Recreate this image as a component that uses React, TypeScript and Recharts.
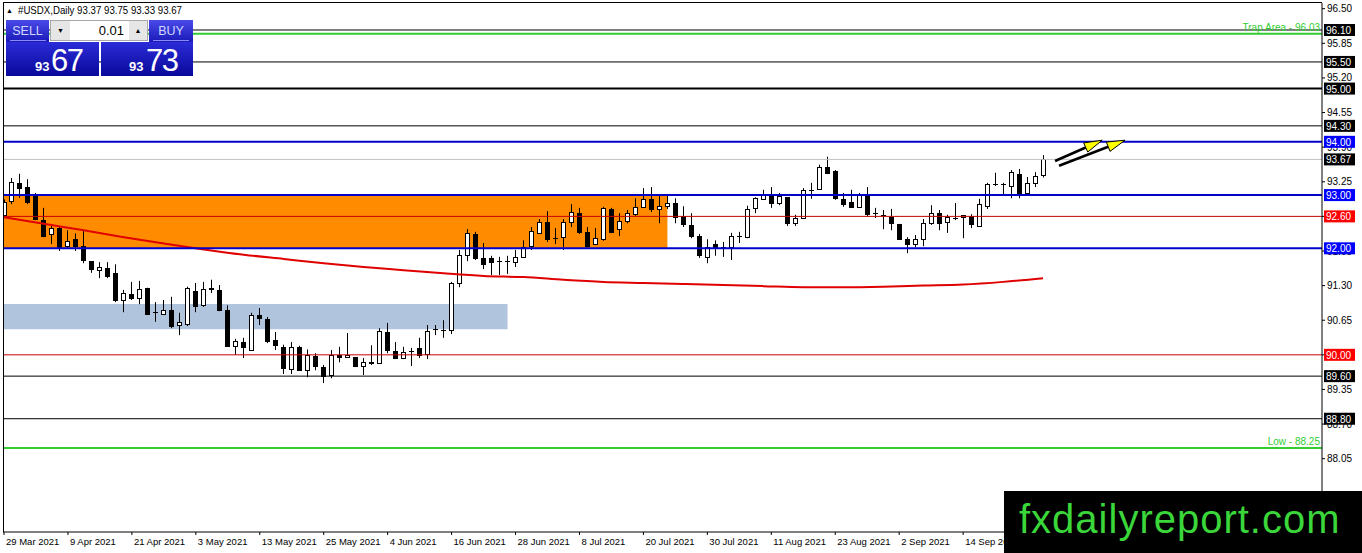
import React, { useState } from "react";
import { createPortal } from "react-dom";
import {
  ComposedChart,
  Bar,
  Line,
  XAxis,
  YAxis,
  ReferenceLine,
  ReferenceArea,
} from "recharts";

// daily OHLC of #USDX (bar 0 = 29 Mar 2021)
const opens = [
  92.63, 92.89, 93.23, 93.15, 92.98, 92.53, 92.27, 92.38, 92.05, 92.17,
  92.04, 91.76, 91.59, 91.63, 91.54, 91.03, 91.14, 91.07, 91.26, 90.8,
  90.77, 90.84, 90.56, 90.58, 91.2, 90.93, 91.26, 91.22, 90.84, 90.17,
  90.24, 90.1, 90.75, 90.67, 90.28, 90.15, 89.73, 90.15, 89.71, 89.97,
  89.78, 89.62, 89.99, 89.96, 89.95, 89.79, 89.84, 89.84, 90.43, 90.08,
  89.94, 90.07, 90.13, 90.02, 90.48, 90.46, 90.46, 91.35, 91.87, 92.27,
  91.82, 91.82, 91.76, 91.76, 91.74, 91.84, 92.04, 92.29, 92.49, 92.19,
  92.21, 92.49, 92.66, 92.31, 92.08, 92.17, 92.74, 92.36, 92.51, 92.64,
  92.78, 92.93, 92.74, 92.79, 92.85, 92.61, 92.44, 92.23, 91.84, 92.08,
  92.02, 92.02, 92.23, 92.21, 92.76, 92.93, 93.0, 92.85, 92.96, 92.47,
  92.57, 93.1, 93.11, 93.53, 93.45, 92.93, 92.87, 92.78, 92.98, 92.66,
  92.62, 92.59, 92.46, 92.17, 92.08, 92.17, 92.47, 92.66, 92.49, 92.57,
  92.59, 92.61, 92.42, 92.79, 93.21, 93.21, 93.17, 93.4, 93.04, 93.23,
  93.37,
];
const highs = [
  92.92, 93.32, 93.4, 93.3, 93.04, 92.76, 92.42, 92.4, 92.34, 92.28,
  92.34, 91.76, 91.74, 91.74, 91.7, 91.22, 91.37, 91.39, 91.26, 90.99,
  91.03, 91.09, 90.79, 91.28, 91.35, 91.37, 91.41, 91.31, 90.93, 90.3,
  90.32, 90.79, 90.88, 90.71, 90.43, 90.19, 90.24, 90.17, 90.1, 90.03,
  89.81, 90.09, 90.15, 90.41, 89.96, 89.94, 90.18, 90.5, 90.6, 90.24,
  90.15, 90.13, 90.32, 90.56, 90.56, 90.65, 91.37, 91.97, 92.36, 92.31,
  92.1, 91.86, 91.84, 91.86, 91.97, 92.15, 92.4, 92.55, 92.7, 92.38,
  92.55, 92.83, 92.76, 92.4, 92.38, 92.78, 92.76, 92.66, 92.72, 92.94,
  93.13, 93.15, 93.0, 93.0, 92.94, 92.79, 92.66, 92.27, 92.17, 92.15,
  92.12, 92.29, 92.31, 92.8, 92.96, 93.1, 93.15, 93.04, 92.96, 92.63,
  93.13, 93.23, 93.57, 93.72, 93.47, 93.04, 93.1, 93.04, 93.15, 92.76,
  92.72, 92.74, 92.46, 92.21, 92.25, 92.55, 92.81, 92.72, 92.63, 92.85,
  92.62, 92.64, 92.93, 93.23, 93.42, 93.23, 93.47, 93.49, 93.34, 93.43,
  93.75,
];
const lows = [
  92.6, 92.83, 92.95, 92.83, 92.53, 92.21, 92.08, 91.95, 92.0, 91.95,
  91.72, 91.54, 91.44, 91.44, 90.99, 90.8, 91.03, 90.95, 90.75, 90.62,
  90.77, 90.5, 90.37, 90.54, 90.8, 90.9, 91.16, 90.82, 90.15, 90.0,
  89.94, 90.09, 90.56, 90.22, 90.09, 89.64, 89.64, 89.7, 89.58, 89.71,
  89.47, 89.56, 89.86, 89.94, 89.77, 89.62, 89.81, 89.84, 90.03, 89.92,
  89.92, 89.79, 89.94, 89.92, 90.37, 90.32, 90.39, 91.27, 91.76, 91.78,
  91.61, 91.5, 91.5, 91.52, 91.65, 91.82, 91.97, 92.27, 92.12, 92.08,
  91.97, 92.4, 92.27, 92.02, 92.06, 92.14, 92.29, 92.23, 92.47, 92.61,
  92.78, 92.68, 92.47, 92.74, 92.47, 92.4, 92.19, 91.82, 91.72, 91.86,
  91.84, 91.78, 92.1, 92.19, 92.66, 92.91, 92.76, 92.81, 92.42, 92.42,
  92.55, 92.93, 93.1, 93.4, 92.91, 92.78, 92.78, 92.78, 92.59, 92.57,
  92.36, 92.34, 92.16, 91.91, 92.02, 92.04, 92.44, 92.34, 92.29, 92.53,
  92.19, 92.38, 92.4, 92.74, 93.17, 93.02, 92.94, 92.94, 93.0, 93.15,
  93.33,
];
const closes = [
  92.87, 93.25, 93.13, 92.87, 92.55, 92.23, 92.38, 92.0, 92.14, 92.04,
  91.78, 91.61, 91.65, 91.48, 91.03, 91.16, 91.07, 91.24, 90.77, 90.8,
  90.84, 90.54, 90.61, 91.26, 90.92, 91.24, 91.24, 90.84, 90.17, 90.26,
  90.15, 90.75, 90.69, 90.26, 90.19, 89.75, 90.15, 89.71, 89.99, 89.79,
  89.6, 89.99, 89.96, 89.99, 89.79, 89.86, 89.86, 90.45, 90.09, 89.94,
  90.05, 90.07, 90.0, 90.45, 90.48, 90.46, 91.35, 91.87, 92.29, 91.82,
  91.71, 91.74, 91.76, 91.76, 91.84, 92.02, 92.32, 92.49, 92.17, 92.19,
  92.49, 92.68, 92.31, 92.04, 92.19, 92.76, 92.31, 92.51, 92.66, 92.78,
  92.93, 92.74, 92.79, 92.85, 92.59, 92.45, 92.23, 91.87, 92.02, 92.02,
  92.02, 92.23, 92.23, 92.74, 92.94, 93.0, 92.85, 92.98, 92.47, 92.57,
  93.1, 93.1, 93.53, 93.42, 92.94, 92.83, 92.78, 93.02, 92.64, 92.66,
  92.62, 92.47, 92.17, 92.08, 92.17, 92.47, 92.66, 92.47, 92.59, 92.57,
  92.62, 92.46, 92.83, 93.21, 93.21, 93.21, 93.43, 93.04, 93.23, 93.36,
  93.67,
];

const dateTicks = [0, 8, 16, 24, 32, 40, 48, 56, 64, 72, 80, 88, 96, 104, 112, 120];
const dateLabels = [
  "29 Mar 2021", "9 Apr 2021", "21 Apr 2021", "3 May 2021", "13 May 2021",
  "25 May 2021", "4 Jun 2021", "16 Jun 2021", "28 Jun 2021", "8 Jul 2021",
  "20 Jul 2021", "30 Jul 2021", "11 Aug 2021", "23 Aug 2021", "2 Sep 2021",
  "14 Sep 2021",
];

const priceTicks = [
  96.5, 95.85, 95.2, 94.55, 93.9, 93.25, 92.6, 91.95, 91.3, 90.65, 90.0,
  89.35, 88.7, 88.05,
];

// moving average, sampled every 5 bars
const maBars = [0, 5, 10, 15, 20, 25, 30, 35, 40, 45, 50, 55, 60, 65, 70, 75, 80, 85, 90, 95, 100, 105, 110, 115, 120, 125, 130];
const maValues = [
  92.585, 92.46, 92.34, 92.21, 92.09, 91.98, 91.88, 91.8, 91.72, 91.65,
  91.59, 91.53, 91.48, 91.46, 91.41, 91.37, 91.35, 91.33, 91.31, 91.29,
  91.27, 91.27, 91.28, 91.3, 91.32, 91.37, 91.44,
];

const blackLevels = [96.1, 95.5, 94.3, 89.6, 88.8];
const thickLevels = [95.0];
const blueLevels = [94.0, 93.0, 92.0];
const redLevels = [92.6, 90.0];
const bidLevel = 93.67;
const trapLevel = 96.03;
const lowLevel = 88.25;

const orangeZone = { from: 0, to: 83, low: 92.0, high: 93.0 };
const blueZone = { from: 0, to: 63, low: 90.48, high: 90.955 };

const arrows = [
  { x1: 131.5, y1: 93.64, x2: 137.4, y2: 94.03 },
  { x1: 132.0, y1: 93.55, x2: 140.25, y2: 94.03 },
];

const candles = opens.map((o, i) => ({ i, o, h: highs[i], l: lows[i], c: closes[i] }));
const maData = maBars.map((i, k) => ({ i, v: maValues[k] }));

const FONT = "Liberation Sans, Arial, sans-serif";

const Candle = (props: any) => {
  const { x, y, width, height, payload } = props;
  if (!payload || height == null) return null;
  const { o, h, l, c } = payload;
  const top = Math.min(y, y + height);
  const span = Math.abs(height);
  const py = (v: number) => top + ((h - v) / (h - l || 1)) * span;
  const cx = Math.round(x + width / 2) + 0.5;
  const yo = py(o);
  const yc = py(c);
  const bt = Math.round(Math.min(yo, yc)) + 0.5;
  const bb = Math.round(Math.max(yo, yc)) + 0.5;
  return (
    <g>
      <line x1={cx} x2={cx} y1={top} y2={top + span} stroke="#000" strokeWidth={1} />
      {bb - bt < 1 ? (
        <line x1={cx - 2.5} x2={cx + 2.5} y1={bt} y2={bt} stroke="#000" strokeWidth={1} />
      ) : (
        <rect x={cx - 2} y={bt} width={4} height={bb - bt} fill={c >= o ? "#fff" : "#000"} stroke="#000" strokeWidth={1} />
      )}
    </g>
  );
};

const DateTick = (props: any) => {
  const { x, y, payload } = props;
  const k = dateTicks.indexOf(payload.value);
  return (
    <text x={x + 2} y={y + 8} fontSize={9.5} fontFamily={FONT} fill="#000" textAnchor="start">
      {dateLabels[k]}
    </text>
  );
};

// price tag on the right scale; drawn into the overlay layer so it sits above the axis ticks
const PriceBox = (props: any) => {
  const { viewBox, fill, text, layer } = props;
  if (!viewBox || !layer) return null;
  const bx = viewBox.x + viewBox.width + 2;
  const by = viewBox.y;
  return createPortal(
    <g>
      <rect x={bx} y={by - 6} width={31} height={12} fill={fill} />
      <text x={bx + 2} y={by + 4} fontSize={10} fontFamily={FONT} fill="#fff">
        {text}
      </text>
    </g>,
    layer
  );
};

const GreenLabel = (props: any) => {
  const { viewBox, text } = props;
  if (!viewBox) return null;
  return (
    <text x={viewBox.x + viewBox.width - 2} y={viewBox.y - 3} fontSize={10} fontFamily={FONT} fill="#32cd32" textAnchor="end">
      {text}
    </text>
  );
};

const ArrowShape = (props: any) => {
  const { x1, y1, x2, y2 } = props;
  if (x1 == null) return null;
  const dx = x2 - x1;
  const dy = y2 - y1;
  const len = Math.sqrt(dx * dx + dy * dy) || 1;
  const ux = dx / len;
  const uy = dy / len;
  const bx = x2 - ux * 18;
  const by = y2 - uy * 18;
  const nx = -uy * 5;
  const ny = ux * 5;
  return (
    <g>
      <line x1={x1} y1={y1} x2={bx} y2={by} stroke="#000" strokeWidth={2.5} />
      <polygon points={`${x2},${y2} ${bx + nx},${by + ny} ${bx - nx},${by - ny}`} fill="#ffff00" stroke="#000" strokeWidth={1} />
    </g>
  );
};

const fmt = (v: number) => v.toFixed(2);

export default function App() {
  const [layer, setLayer] = useState<SVGGElement | null>(null);
  return (
    <div style={{ position: "absolute", left: 0, top: 0, width: 1362, height: 553, background: "#fff", overflow: "hidden" }}>
      <ComposedChart width={1362} height={553} data={candles} margin={{ top: 3, right: 0, left: 3, bottom: 0 }}>
        <XAxis
          dataKey="i"
          type="number"
          domain={[-0.125, 164.9]}
          allowDataOverflow
          ticks={dateTicks}
          interval={0}
          tick={<DateTick />}
          tickSize={3}
          height={21}
          axisLine={{ stroke: "#000" }}
          tickLine={{ stroke: "#000" }}
        />
        <YAxis
          orientation="right"
          type="number"
          domain={[86.673, 96.607]}
          allowDataOverflow
          ticks={priceTicks}
          interval={0}
          width={40}
          tickSize={3}
          tickMargin={2}
          tickFormatter={fmt}
          tick={{ fill: "#000", fontSize: 10, fontFamily: FONT }}
          axisLine={{ stroke: "#000" }}
          tickLine={{ stroke: "#000" }}
        />
        <ReferenceArea x1={orangeZone.from - 0.125} x2={orangeZone.to} y1={orangeZone.low} y2={orangeZone.high} fill="#ff8c00" fillOpacity={1} stroke="none" ifOverflow="hidden" />
        <ReferenceArea x1={blueZone.from - 0.125} x2={blueZone.to} y1={blueZone.low} y2={blueZone.high} fill="#b0c4de" fillOpacity={1} stroke="none" ifOverflow="hidden" />
        <Bar dataKey={(d: any) => [d.l, d.h]} barSize={5} shape={<Candle />} isAnimationActive={false} />
        <Line data={maData} dataKey="v" type="monotone" stroke="#e00000" strokeWidth={2} dot={false} isAnimationActive={false} />
        {blackLevels.map((p) => (
          <ReferenceLine key={"k" + p} y={p} stroke="#000" strokeWidth={1} label={<PriceBox layer={layer} fill="#000" text={fmt(p)} />} />
        ))}
        {thickLevels.map((p) => (
          <ReferenceLine key={"t" + p} y={p} stroke="#000" strokeWidth={2} label={<PriceBox layer={layer} fill="#000" text={fmt(p)} />} />
        ))}
        <ReferenceLine y={bidLevel} stroke="#c0c0c0" strokeWidth={1} label={<PriceBox layer={layer} fill="#000" text={fmt(bidLevel)} />} />
        {redLevels.map((p) => (
          <ReferenceLine key={"r" + p} y={p} stroke="#c80000" strokeWidth={1} label={<PriceBox layer={layer} fill="#ff0000" text={fmt(p)} />} />
        ))}
        {blueLevels.map((p) => (
          <ReferenceLine key={"b" + p} y={p} stroke="#0000c8" strokeWidth={2} label={<PriceBox layer={layer} fill="#0000ff" text={fmt(p)} />} />
        ))}
        <ReferenceLine y={trapLevel} stroke="#32cd32" strokeWidth={2} label={<GreenLabel text={"Trap Area - " + fmt(trapLevel)} />} />
        <ReferenceLine y={lowLevel} stroke="#32cd32" strokeWidth={2} label={<GreenLabel text={"Low - " + fmt(lowLevel)} />} />
        {arrows.map((a, k) => (
          <ReferenceLine
            key={"a" + k}
            segment={[{ x: a.x1, y: a.y1 }, { x: a.x2, y: a.y2 }]}
            stroke="#000"
            shape={(p: any) => <ArrowShape {...p} />}
          />
        ))}
      </ComposedChart>

      <svg width={1362} height={553} style={{ position: "absolute", left: 0, top: 0, pointerEvents: "none" }}>
        <defs>
          <linearGradient id="btn" x1="0" y1="0" x2="0" y2="1">
            <stop offset="0" stopColor="#4a4ae8" />
            <stop offset="1" stopColor="#1a1ab8" />
          </linearGradient>
          <linearGradient id="quote" x1="0" y1="0" x2="0" y2="1">
            <stop offset="0" stopColor="#2c2cd8" />
            <stop offset="1" stopColor="#08089a" />
          </linearGradient>
        </defs>
        <line x1={3.5} y1={2} x2={3.5} y2={532} stroke="#000" />
        <line x1={3} y1={2.5} x2={1322} y2={2.5} stroke="#000" />
        <g ref={setLayer} />

        <text x={6} y={13} fontSize={7} fontFamily={FONT} fill="#000">▲</text>
        <text x={18} y={13.5} fontSize={11} fontFamily={FONT} fill="#000" textLength={164} lengthAdjust="spacingAndGlyphs">
          #USDX,Daily  93.37 93.75 93.33 93.67
        </text>

        <rect x={6} y={20} width={43} height={22} fill="url(#btn)" />
        <line x1={10} y1={40.5} x2={46} y2={40.5} stroke="#8a8aff" />
        <text x={27.5} y={35} fontSize={12.5} fontFamily={FONT} fill="#d0d8ff" textAnchor="middle">SELL</text>

        <rect x={50.5} y={20.5} width={97} height={20} fill="#fff" stroke="#a8a8a8" />
        <rect x={51} y={21} width={19} height={19} fill="#e6e6e6" />
        <rect x={129} y={21} width={18} height={19} fill="#e6e6e6" />
        <text x={60.5} y={33} fontSize={7} fontFamily={FONT} fill="#000" textAnchor="middle">▼</text>
        <text x={138} y={33} fontSize={7} fontFamily={FONT} fill="#000" textAnchor="middle">▲</text>
        <text x={124} y={35} fontSize={13} fontFamily={FONT} fill="#000" textAnchor="end">0.01</text>

        <rect x={149} y={20} width={44} height={22} fill="url(#btn)" />
        <line x1={153} y1={40.5} x2={189} y2={40.5} stroke="#8a8aff" />
        <text x={171} y={35} fontSize={12.5} fontFamily={FONT} fill="#d0d8ff" textAnchor="middle">BUY</text>

        <rect x={6} y={42} width={93} height={34} fill="url(#quote)" />
        <rect x={101} y={42} width={92} height={34} fill="url(#quote)" />
        <text x={35} y={71} fontSize={13} fontWeight="bold" fontFamily={FONT} fill="#fff">93</text>
        <text x={51} y={71} fontSize={31} fontFamily={FONT} fill="#fff" letterSpacing={-1.5}>67</text>
        <text x={129} y={71} fontSize={13} fontWeight="bold" fontFamily={FONT} fill="#fff">93</text>
        <text x={146} y={71} fontSize={31} fontFamily={FONT} fill="#fff" letterSpacing={-1.5}>73</text>

        <rect x={1004} y={491} width={358} height={62} fill="#000" />
        <text x={1019} y={533} fontSize={40} fontFamily={FONT} fill="#3ad63a" letterSpacing={1}>fxdailyreport.com</text>
      </svg>
    </div>
  );
}
